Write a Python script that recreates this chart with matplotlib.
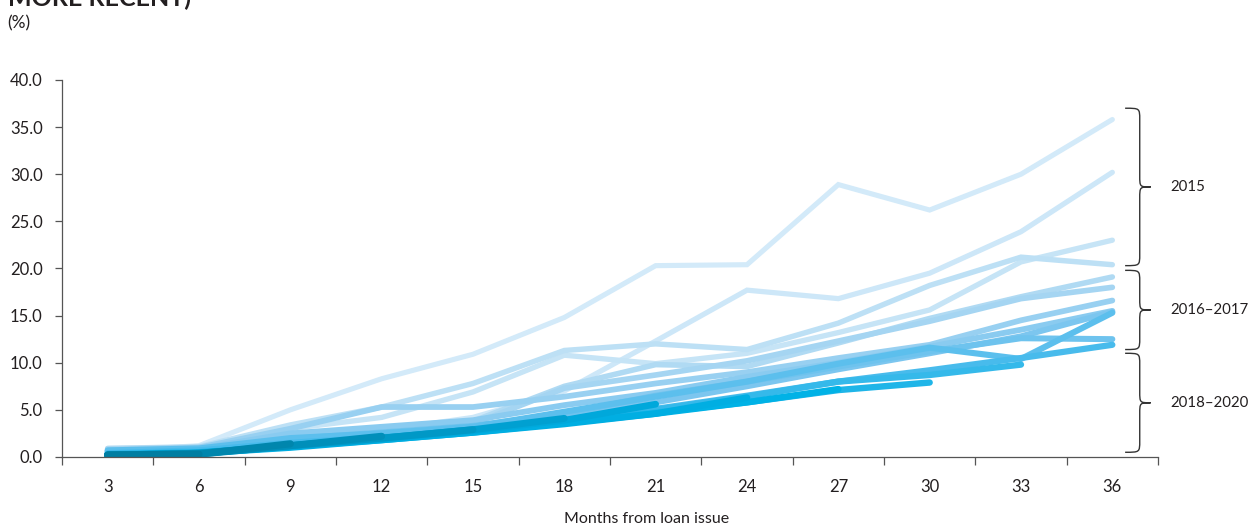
import numpy as np
import matplotlib.pyplot as plt
from matplotlib.path import Path
from matplotlib.patches import PathPatch

# -------------------------------------------------
# Styling
# -------------------------------------------------
plt.rcParams.update({
    "font.family": ["Lato", "DejaVu Sans"],
    "font.size": 11.5,
    "text.color": "#231f20",
    "axes.edgecolor": "#555555",
    "xtick.color": "#555555",
    "ytick.color": "#555555",
    "xtick.labelcolor": "#231f20",
    "ytick.labelcolor": "#231f20",
})

# -------------------------------------------------
# Data (cumulative loss rate, % of issued, by months from issue)
# -------------------------------------------------
months = [3, 6, 9, 12, 15, 18, 21, 24, 27, 30, 33, 36]

vintage_2015 = [
    [0.6, 1.2, 5.0, 8.3, 10.9, 14.8, 20.3, 20.4, 28.9, 26.2, 30.0, 35.8],
    [0.5, 1.0, 2.3, 2.8, 4.2, 7.0, 12.3, 17.7, 16.8, 19.5, 23.9, 30.2],
    [0.7, 1.0, 3.0, 4.2, 6.9, 10.8, 9.9, 11.0, 13.2, 15.6, 20.7, 23.0],
    [0.9, 1.1, 3.4, 5.3, 7.8, 11.3, 12.0, 11.4, 14.2, 18.2, 21.2, 20.4],
]

vintage_2016_17 = [
    [0.9, 1.0, 2.0, 2.6, 3.8, 7.5, 9.8, 9.6, 12.1, 14.7, 17.0, 19.1],
    [0.8, 1.0, 2.2, 2.8, 3.5, 7.3, 8.7, 10.2, 12.3, 14.4, 16.8, 18.0],
    [0.7, 1.0, 3.0, 5.3, 5.3, 6.4, 7.8, 9.0, 10.5, 11.9, 14.5, 16.6],
    [0.6, 0.9, 2.5, 3.2, 3.9, 5.5, 6.8, 8.5, 10.0, 11.7, 13.5, 15.5],
    [0.6, 0.8, 1.8, 2.4, 3.0, 4.3, 5.8, 7.5, 9.3, 11.0, 12.8, 15.4],
    [0.5, 0.8, 1.9, 2.6, 3.3, 4.6, 6.5, 8.0, 9.6, 11.2, 12.6, 12.5],
    [0.7, 0.9, 2.0, 2.5, 3.2, 4.8, 6.4, 8.0, 9.9, 11.6, 10.4, 15.3],
    [0.4, 0.7, 1.5, 2.1, 2.7, 3.9, 5.1, 6.5, 8.0, 9.2, 10.5, 11.9],
]

vintage_2018_20 = [
    [0.3, 0.5, 1.2, 2.0, 2.8, 3.8, 5.0, 6.4, 8.0, 8.7, 9.8],
    [0.3, 0.5, 1.1, 1.9, 2.7, 3.7, 4.7, 5.8, 7.1, 7.9],
    [0.2, 0.4, 1.1, 1.8, 2.6, 3.6, 4.6, 5.8, 7.2],
    [0.2, 0.4, 1.0, 1.8, 2.6, 3.5, 4.6, 6.3],
    [0.2, 0.4, 1.1, 1.9, 2.8, 3.9, 5.6],
    [0.2, 0.4, 1.2, 2.0, 2.9, 4.1],
    [0.2, 0.4, 1.2, 2.0, 2.9],
    [0.2, 0.3, 1.2, 2.2],
    [0.2, 0.3, 1.4],
    [0.2, 0.3],
]

y_ticks = [0, 5, 10, 15, 20, 25, 30, 35, 40]

# brace annotations: (label, top, bottom) in % units
groups = [
    ("2015", 37.0, 20.3),
    ("2016\u20132017", 19.8, 11.4),
    ("2018\u20132020", 11.0, 0.5),
]

colors = [
    "#d3eaf9", "#cde7f8", "#c6e4f6", "#bde0f5",
    "#b0daf3", "#a5d5f2", "#98d0f1", "#8acbf0",
    "#7cc6ef", "#6ec3ee", "#5cbfed", "#48bbec",
    "#35b9ea", "#1fb5e8", "#00b2e6", "#00aee2", "#00a8db",
    "#00a0d1", "#0098c6", "#008fba", "#0086ad", "#007ea2",
]

# -------------------------------------------------
# Figure
# -------------------------------------------------
fig = plt.figure(figsize=(12.5, 5.26), dpi=100)
ax = fig.add_axes([0.0496, 0.1312, 0.8768, 0.7168])

all_series = vintage_2015 + vintage_2016_17 + vintage_2018_20
lws = np.linspace(3.7, 5.2, len(all_series))
x_pos = np.arange(len(months))

for vals, c, lw in zip(all_series, colors, lws):
    ax.plot(x_pos[:len(vals)], vals, color=c, lw=lw,
            solid_capstyle="round", solid_joinstyle="miter")

ax.set_xlim(-0.5, len(months) - 0.5)
ax.set_ylim(0, 40)

ax.spines["top"].set_visible(False)
ax.spines["right"].set_visible(False)
ax.spines["left"].set_linewidth(0.9)
ax.spines["bottom"].set_linewidth(0.9)

ax.set_yticks(y_ticks)
ax.set_yticklabels([f"{v:.1f}" for v in y_ticks])
ax.tick_params(axis="y", direction="out", length=5, width=0.9, pad=9,
               labelsize=12)

ax.set_xticks(x_pos)
ax.set_xticklabels([str(m) for m in months])
ax.set_xticks(np.arange(-0.5, len(months)), minor=True)
ax.tick_params(axis="x", which="major", length=0, pad=16, labelsize=12)
ax.tick_params(axis="x", which="minor", direction="out", length=6, width=0.9)


# curly braces on the right
def brace(ax, top, bot, x0=11.14, xm=11.30, xt=11.42, r=1.2):
    mid = (top + bot) / 2
    verts = [
        (x0, top), (xm, top), (xm, top), (xm, top - r),
        (xm, mid + r),
        (xm, mid), (xm, mid), (xt, mid),
        (xm, mid), (xm, mid), (xm, mid - r),
        (xm, bot + r),
        (xm, bot), (xm, bot), (x0, bot),
    ]
    codes = [Path.MOVETO, Path.CURVE4, Path.CURVE4, Path.CURVE4,
             Path.LINETO,
             Path.CURVE4, Path.CURVE4, Path.CURVE4,
             Path.CURVE4, Path.CURVE4, Path.CURVE4,
             Path.LINETO,
             Path.CURVE4, Path.CURVE4, Path.CURVE4]
    ax.add_patch(PathPatch(Path(verts, codes), fc="none", ec="#333333",
                           lw=1.0, clip_on=False))
    return mid


for label, top, bot in groups:
    mid = brace(ax, top, bot)
    ax.text(11.63, mid, label, va="center", ha="left", fontsize=10.8)

# titles / labels
fig.text(0.006, 1 - 6 / 526, "MORE RECENT)", fontsize=18, va="baseline",
         ha="left", color="#231f20", fontweight="bold")
fig.text(0.006, 1 - 23 / 526, "(%)", fontsize=12.5, va="center", ha="left")
fig.text(647 / 1250, 1 - 519 / 526, "Months from loan issue", fontsize=11.5,
         va="center", ha="center")

fig.savefig("out.png", dpi=100)
